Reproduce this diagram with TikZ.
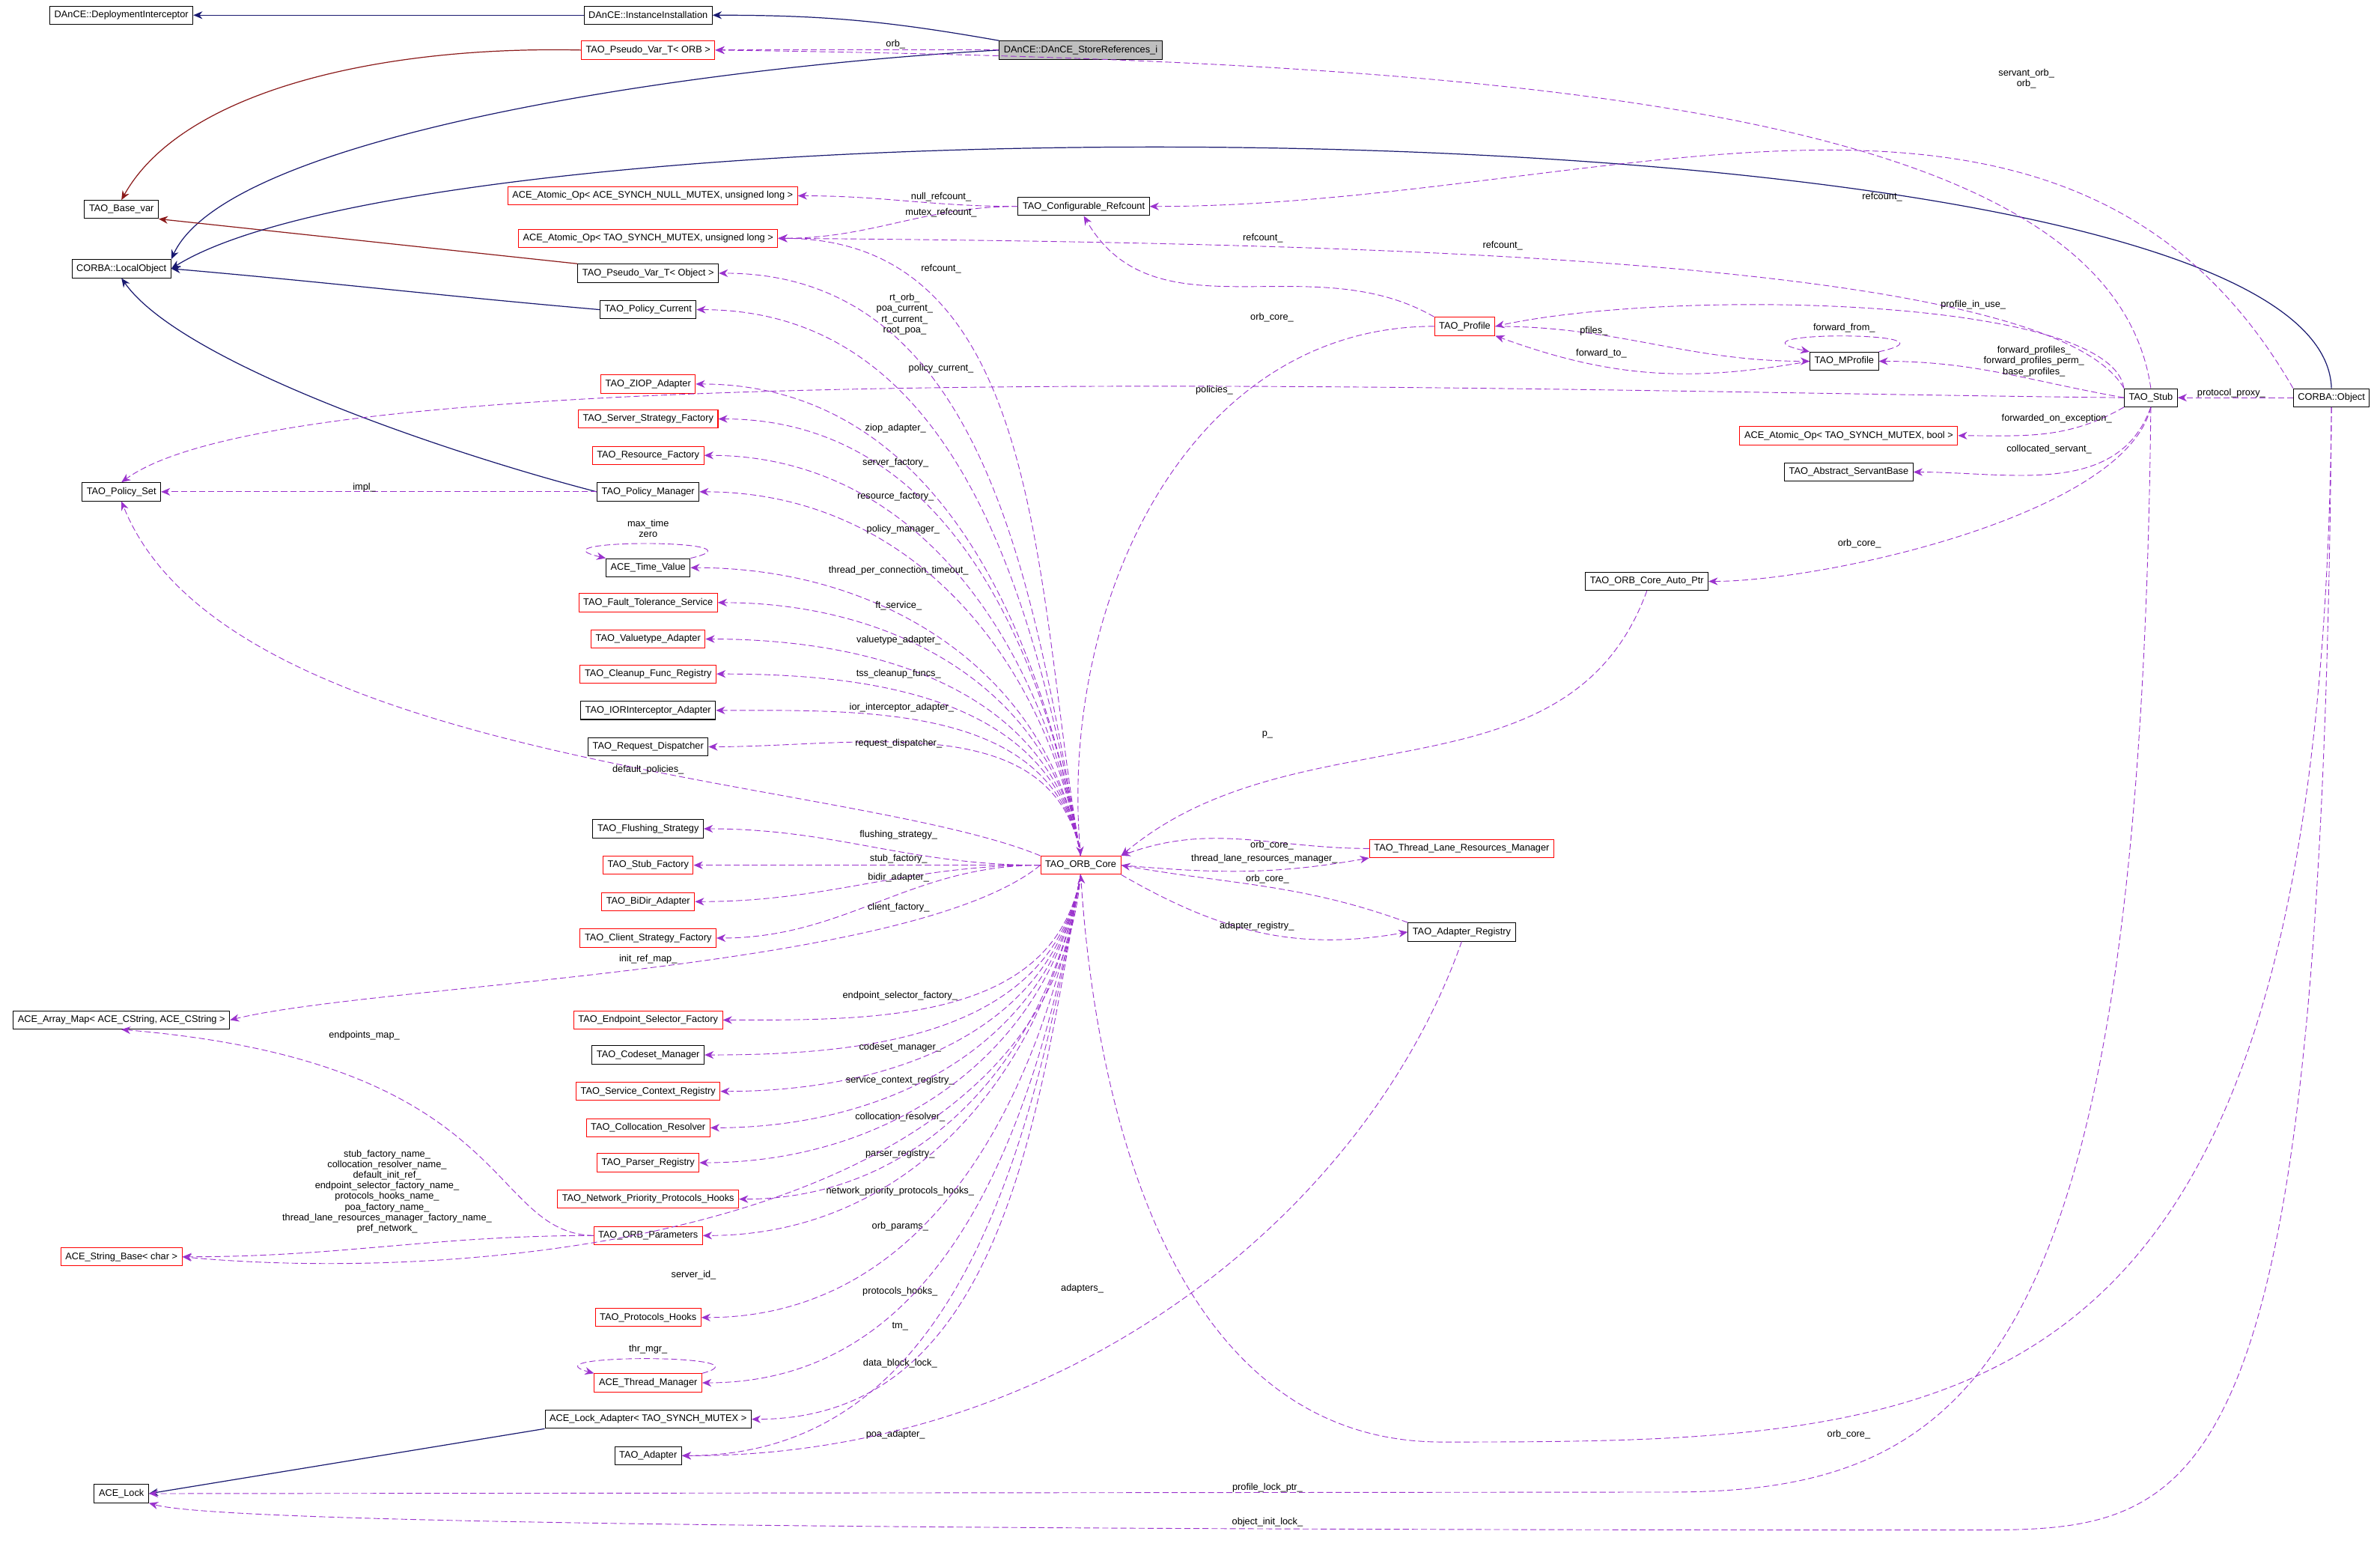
\documentclass[tikz,border=0pt]{standalone}
\usepackage{fontspec}
\setmainfont{Liberation Sans}
\usetikzlibrary{arrows.meta}
\definecolor{inhc}{RGB}{25,25,112}
\definecolor{tmplc}{RGB}{139,26,26}
\definecolor{usec}{RGB}{154,50,205}
\begin{document}
\begin{tikzpicture}[x=1pt,y=-1pt,
  box/.style={draw=black,fill=white,line width=0.5pt,minimum height=12pt,inner xsep=3pt,inner ysep=1pt,font=\fontsize{6.3}{7}\selectfont},
  rbox/.style={box,draw=red},
  lbl/.style={font=\fontsize{6.3}{7}\selectfont,align=center,inner sep=0pt},
  inh/.style={draw=inhc,line width=0.6pt,-{Stealth[length=6pt,width=5pt]}},
  tmpl/.style={draw=tmplc,line width=0.6pt,-{Stealth[length=6pt,width=5pt]}},
  use/.style={draw=usec,dashed,dash pattern=on 4pt off 2pt,line width=0.45pt,-{Stealth[length=6pt,width=5pt]}}]
\useasboundingbox[fill=white] (0,0) rectangle (1568,1024);
% nodes
\node[box] (di) at (80,10) {DAnCE::DeploymentInterceptor};
\node[box] (ii) at (427,10) {DAnCE::InstanceInstallation};
\node[box,fill=black!25] (sr) at (712,33) {DAnCE::DAnCE\_StoreReferences\_i};
\node[rbox] (pvorb) at (427,33) {TAO\_Pseudo\_Var\_T< ORB >};
\node[box] (basevar) at (80,138) {TAO\_Base\_var};
\node[box] (lo) at (80,177) {CORBA::LocalObject};
\node[rbox] (aonull) at (430,129) {ACE\_Atomic\_Op< ACE\_SYNCH\_NULL\_MUTEX, unsigned long >};
\node[box] (cref) at (714,136) {TAO\_Configurable\_Refcount};
\node[rbox] (aoul) at (427,157) {ACE\_Atomic\_Op< TAO\_SYNCH\_MUTEX, unsigned long >};
\node[box] (pvobj) at (427,180) {TAO\_Pseudo\_Var\_T< Object >};
\node[box] (pcur) at (427,204) {TAO\_Policy\_Current};
\node[rbox] (prof) at (965,215) {TAO\_Profile};
\node[box] (mprof) at (1215,238) {TAO\_MProfile};
\node[rbox] (ziop) at (427,253) {TAO\_ZIOP\_Adapter};
\node[box] (stub) at (1417,262) {TAO\_Stub};
\node[box] (obj) at (1536,262) {CORBA::Object};
\node[rbox] (ssf) at (427,276) {TAO\_Server\_Strategy\_Factory};
\node[rbox] (aobool) at (1218,287) {ACE\_Atomic\_Op< TAO\_SYNCH\_MUTEX, bool >};
\node[rbox] (rf) at (427,300) {TAO\_Resource\_Factory};
\node[box] (asb) at (1218,311) {TAO\_Abstract\_ServantBase};
\node[box] (pset) at (80,324) {TAO\_Policy\_Set};
\node[box] (pman) at (427,324) {TAO\_Policy\_Manager};
\node[box] (tv) at (427,374) {ACE\_Time\_Value};
\node[box] (cap) at (1085,383) {TAO\_ORB\_Core\_Auto\_Ptr};
\node[rbox] (ft) at (427,397) {TAO\_Fault\_Tolerance\_Service};
\node[rbox] (va) at (427,421) {TAO\_Valuetype\_Adapter};
\node[rbox] (cfr) at (427,444) {TAO\_Cleanup\_Func\_Registry};
\node[box] (ior) at (427,468) {TAO\_IORInterceptor\_Adapter};
\node[box] (rd) at (427,492) {TAO\_Request\_Dispatcher};
\node[box] (fs) at (427,546) {TAO\_Flushing\_Strategy};
\node[rbox] (sf) at (427,570) {TAO\_Stub\_Factory};
\node[rbox] (core) at (712,570) {TAO\_ORB\_Core};
\node[rbox] (tlrm) at (963,559) {TAO\_Thread\_Lane\_Resources\_Manager};
\node[rbox] (bidir) at (427,594) {TAO\_BiDir\_Adapter};
\node[box] (areg) at (963,614) {TAO\_Adapter\_Registry};
\node[rbox] (csf) at (427,618) {TAO\_Client\_Strategy\_Factory};
\node[box] (amap) at (80,672) {ACE\_Array\_Map< ACE\_CString, ACE\_CString >};
\node[rbox] (esf) at (427,672) {TAO\_Endpoint\_Selector\_Factory};
\node[box] (csm) at (427,695) {TAO\_Codeset\_Manager};
\node[rbox] (scr) at (427,719) {TAO\_Service\_Context\_Registry};
\node[rbox] (cr) at (427,743) {TAO\_Collocation\_Resolver};
\node[rbox] (pr) at (427,766) {TAO\_Parser\_Registry};
\node[rbox] (nph) at (427,790) {TAO\_Network\_Priority\_Protocols\_Hooks};
\node[rbox] (sbase) at (80,828) {ACE\_String\_Base< char >};
\node[rbox] (op) at (427,814) {TAO\_ORB\_Parameters};
\node[rbox] (ph) at (427,868) {TAO\_Protocols\_Hooks};
\node[rbox] (tm) at (427,911) {ACE\_Thread\_Manager};
\node[box] (la) at (427,935) {ACE\_Lock\_Adapter< TAO\_SYNCH\_MUTEX >};
\node[box] (ad) at (427,959) {TAO\_Adapter};
\node[box] (lock) at (80,984) {ACE\_Lock};
% inheritance
\draw[inh] (ii.west) -- (di.east);
\draw[inh] (sr.north west) to[out=170,in=0] (ii.east);
\draw[inh] (sr.west) .. controls (450,45) and (150,90) .. (lo.north east);
\draw[tmpl] (pvorb.west) .. controls (250,30) and (120,60) .. (basevar.north);
\draw[tmpl] (pvobj.north west) -- (basevar.south east);
\draw[inh] (pcur.west) to[out=175,in=-5] (lo.east);
\draw[inh] (pman.west) .. controls (300,300) and (120,240) .. (lo.south);
\draw[inh] (obj.north) .. controls (1530,60) and (300,60) .. (lo.east);
\draw[inh] (la.south west) -- (lock.east);
% usage from ORB core
\foreach \t/\lx/\ly/\txt in {
  aoul/620/177/refcount\_,
  pvobj/596/207/{rt\_orb\_\\poa\_current\_\\rt\_current\_\\root\_poa\_},
  pcur/620/243/policy\_current\_,
  ziop/590/282/ziop\_adapter\_,
  ssf/590/305/server\_factory\_,
  rf/590/327/resource\_factory\_,
  pman/595/349/policy\_manager\_,
  tv/592/376/thread\_per\_connection\_timeout\_,
  ft/592/399/ft\_service\_,
  va/592/422/valuetype\_adapter\_,
  cfr/592/444/tss\_cleanup\_funcs\_,
  ior/594/466/ior\_interceptor\_adapter\_,
  rd/592/490/request\_dispatcher\_}
  {\draw[use] (core.north) to[out=100,in=0] (\t.east);
   \node[lbl] at (\lx,\ly) {\txt};}
\foreach \t/\lx/\ly/\txt in {
  fs/592/550/flushing\_strategy\_,
  sf/592/566/stub\_factory\_,
  bidir/592/578/bidir\_adapter\_,
  csf/592/598/client\_factory\_}
  {\draw[use] (core.west) to[out=180,in=0] (\t.east);
   \node[lbl] at (\lx,\ly) {\txt};}
\foreach \t/\lx/\ly/\txt in {
  esf/593/656/endpoint\_selector\_factory\_,
  csm/593/690/codeset\_manager\_,
  scr/593/712/service\_context\_registry\_,
  cr/593/736/collocation\_resolver\_,
  pr/593/760/parser\_registry\_,
  nph/593/785/network\_priority\_protocols\_hooks\_,
  op/593/808/orb\_params\_,
  ph/593/851/protocols\_hooks\_,
  tm/593/874/tm\_,
  la/593/898/data\_block\_lock\_,
  ad/590/945/poa\_adapter\_}
  {\draw[use] (core.south) to[out=-100,in=0] (\t.east);
   \node[lbl] at (\lx,\ly) {\txt};}
\draw[use] (core.north west) .. controls (560,512) and (150,505) .. (pset.south);
\node[lbl] at (427,507) {default\_policies\_};
\draw[use] (core.west) .. controls (600,640) and (250,648) .. (amap.east);
\node[lbl] at (427,632) {init\_ref\_map\_};
\draw[use] (core.south) .. controls (690,820) and (300,845) .. (sbase.east);
\node[lbl] at (457,840) {server\_id\_};
% other usage
\draw[use] (sr.west) -- (pvorb.east); \node[lbl] at (590,29) {orb\_};
\draw[use] (stub.north) .. controls (1390,70) and (1000,40) .. (pvorb.east);
\node[lbl] at (1335,52) {servant\_orb\_\\orb\_};
\draw[use] (cref.west) to[out=180,in=0] (aonull.east); \node[lbl] at (620,130) {null\_refcount\_};
\draw[use] (cref.west) to[out=180,in=0] (aoul.east); \node[lbl] at (620,140) {mutex\_refcount\_};
\draw[use] (obj.north west) to[out=120,in=0] (cref.east); \node[lbl] at (1240,130) {refcount\_};
\draw[use] (prof.north west) to[out=150,in=-60] (cref.south); \node[lbl] at (832,157) {refcount\_};
\draw[use] (stub.north west) .. controls (1350,170) and (900,160) .. (aoul.east); \node[lbl] at (990,162) {refcount\_};
\draw[use] (prof.west) to[out=180,in=95] (core.north); \node[lbl] at (838,209) {orb\_core\_};
\draw[use] (prof.east) to[out=0,in=180] (mprof.west); \node[lbl] at (1050,218) {pfiles\_};
\draw[use] (mprof.west) to[out=190,in=-20] (prof.south east); \node[lbl] at (1055,233) {forward\_to\_};
\draw[use] (mprof.north east) .. controls (1300,218) and (1130,218) .. (mprof.north west); \node[lbl] at (1215,216) {forward\_from\_};
\draw[use] (stub.north west) .. controls (1390,195) and (1100,190) .. (prof.east); \node[lbl] at (1300,201) {profile\_in\_use\_};
\draw[use] (stub.west) to[out=170,in=0] (mprof.east); \node[lbl] at (1340,238) {forward\_profiles\_\\forward\_profiles\_perm\_\\base\_profiles\_};
\draw[use] (stub.west) .. controls (1000,258) and (200,230) .. (pset.north); \node[lbl] at (800,257) {policies\_};
\draw[use] (obj.west) -- (stub.east); \node[lbl] at (1470,259) {protocol\_proxy\_};
\draw[use] (stub.south west) to[out=-150,in=0] (aobool.east); \node[lbl] at (1355,276) {forwarded\_on\_exception\_};
\draw[use] (stub.south) to[out=-110,in=0] (asb.east); \node[lbl] at (1350,296) {collocated\_servant\_};
\draw[use] (stub.south) .. controls (1400,340) and (1200,383) .. (cap.east); \node[lbl] at (1225,358) {orb\_core\_};
\draw[use] (cap.south) to[out=-110,in=40] (core.north east); \node[lbl] at (835,484) {p\_};
\draw[use] (tlrm.west) to[out=180,in=20] (core.north east); \node[lbl] at (838,557) {orb\_core\_};
\draw[use] (core.east) to[out=-5,in=190] (tlrm.south west); \node[lbl] at (833,566) {thread\_lane\_resources\_manager\_};
\draw[use] (areg.north west) to[out=160,in=-10] (core.east); \node[lbl] at (835,579) {orb\_core\_};
\draw[use] (core.south east) to[out=-30,in=190] (areg.west); \node[lbl] at (828,610) {adapter\_registry\_};
\draw[use] (areg.south) .. controls (900,800) and (700,960) .. (ad.east); \node[lbl] at (713,849) {adapters\_};
\draw[use] (pman.west) -- (pset.east); \node[lbl] at (240,321) {impl\_};
\draw[use] (tv.north east) .. controls (510,355) and (345,355) .. (tv.north west); \node[lbl] at (427,348) {max\_time\\zero};
\draw[use] (tm.north east) .. controls (510,892) and (345,892) .. (tm.north west); \node[lbl] at (427,889) {thr\_mgr\_};
\draw[use] (op.west) .. controls (320,812) and (340,700) .. (amap.south); \node[lbl] at (240,682) {endpoints\_map\_};
\draw[use] (op.west) to[out=180,in=0] (sbase.east);
\node[lbl] at (255,785) {stub\_factory\_name\_\\collocation\_resolver\_name\_\\default\_init\_ref\_\\endpoint\_selector\_factory\_name\_\\protocols\_hooks\_name\_\\poa\_factory\_name\_\\thread\_lane\_resources\_manager\_factory\_name\_\\pref\_network\_};
\draw[use] (obj.south) .. controls (1530,945) and (1300,950) .. (950,950) .. controls (760,950) and (720,700) .. (core.south); \node[lbl] at (1218,945) {orb\_core\_};
\draw[use] (stub.south) .. controls (1410,900) and (1300,983) .. (1100,983) -- (lock.east); \node[lbl] at (835,980) {profile\_lock\_ptr\_};
\draw[use] (obj.south) .. controls (1530,1000) and (1450,1008) .. (1300,1008) .. controls (700,1008) and (150,1005) .. (lock.south east); \node[lbl] at (835,1003) {object\_init\_lock\_};
\end{tikzpicture}
\end{document}
